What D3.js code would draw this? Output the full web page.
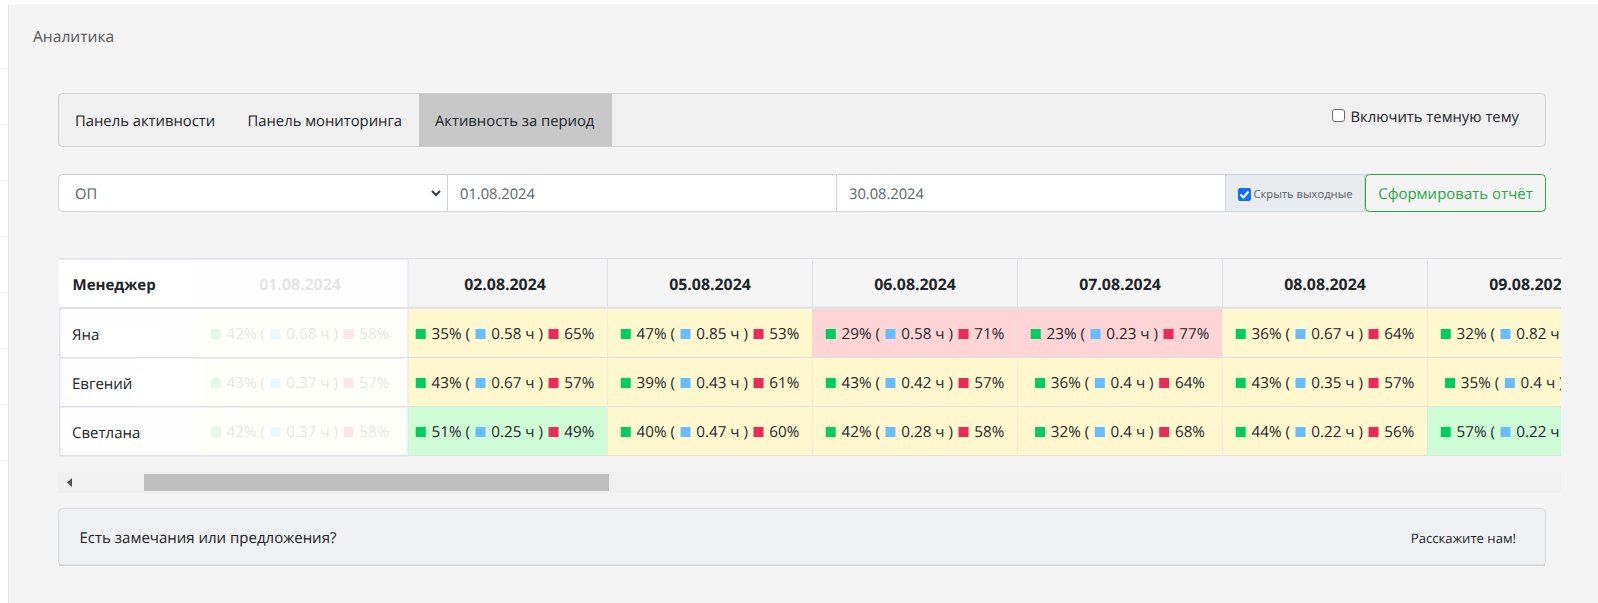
<!DOCTYPE html>
<html lang="ru"><head><meta charset="utf-8">
<script src="https://cdn.jsdelivr.net/npm/d3@7/dist/d3.min.js"></script>
<style>
html,body{margin:0;padding:0;background:#fff;overflow:hidden}
svg{display:block}
text{font-family:"Open Sans",sans-serif;fill:#212529;text-rendering:geometricPrecision}
</style></head><body><svg id="c" width="1598" height="603"></svg>
<script>
const dates=["01.08.2024","02.08.2024","05.08.2024","06.08.2024","07.08.2024","08.08.2024","09.08.2024"];
const managers=["Яна","Евгений","Светлана"];
const activeYana=[42,35,47,29,23,36,32];
const activeEvgeny=[43,43,39,43,36,43,35];
const activeSvetlana=[42,51,40,42,32,44,57];
const hoursYana=["0.68","0.58","0.85","0.58","0.23","0.67","0.82"];
const hoursEvgeny=["0.37","0.67","0.43","0.42","0.4","0.35","0.4"];
const hoursSvetlana=["0.37","0.25","0.47","0.28","0.4","0.22","0.22"];
const idleYana=[58,65,53,71,77,64,68];
const idleEvgeny=[57,57,61,57,64,57,65];
const idleSvetlana=[58,49,60,58,68,56,43];
const tabs=["Панель активности","Панель мониторинга","Активность за период"];
const active=[activeYana,activeEvgeny,activeSvetlana];
const hours=[hoursYana,hoursEvgeny,hoursSvetlana];
const idle=[idleYana,idleEvgeny,idleSvetlana];

const svg=d3.select("#c");
const W=1598,H=603,border="#dfe1e8",clipRight=1561;
const rect=(p,x,y,w,h,f,s,r)=>p.append("rect").attr("x",x).attr("y",y).attr("width",w).attr("height",h)
  .attr("fill",f||"none").attr("stroke",s||"none").attr("rx",r||0);
const label=(p,t,x,y,size,color,weight,anchor)=>p.append("text").text(t).attr("x",x).attr("y",y)
  .attr("dominant-baseline","central").attr("font-size",size).style("fill",color||"#212529")
  .attr("font-weight",weight||400).attr("text-anchor",anchor||"start");

// page background
rect(svg,0,0,W,H,"#fff");
[68,124,180,236,292,348,404,460].forEach(y=>rect(svg,0,y,8,1,"#eeeeee"));
rect(svg,8,4.5,W-8,H-4.5,"#f4f4f4");
rect(svg,8,5,1,H-5,"#e9e9e9");
label(svg,"Аналитика",33,35.5,15.6,"#555");

// navbar
rect(svg,58.5,93.5,1487,53,"#f0f0f0","#cfcfcf",4);
rect(svg,419,94,193,52,"#c8c8c8");
const tabX=[75,247.5,435];
tabs.forEach((t,i)=>label(svg,t,tabX[i],120.5,14.8));
rect(svg,1332.5,109.5,12,12,"#fff","#6c6c6c",2.5);
label(svg,"Включить темную тему",1350.5,117,14.8);

// form row
rect(svg,58.5,174.5,1487,37,"#fff","#ced4da",4);
[447,836].forEach(x=>rect(svg,x,175,1,37,"#ced4da"));
label(svg,"ОП",75,194,14.7,"#5a6268");
svg.append("path").attr("d","M432 191l4 4 4-4").attr("fill","none").attr("stroke","#343a40").attr("stroke-width",2);
label(svg,"01.08.2024",460,194,14.7,"#5a6268");
label(svg,"30.08.2024",849,194,14.7,"#5a6268");
rect(svg,1225.5,174.5,139,37,"#e9ecef","#ced4da");
rect(svg,1238,188,13,13,"#0d6efd",null,2);
svg.append("path").attr("d","M1240.5 194.5l3 3 5-6").attr("fill","none").attr("stroke","#fff").attr("stroke-width",2);
label(svg,"Скрыть выходные",1253.5,194.5,11.2,"#5a6268");
rect(svg,1365.5,174.5,180,37,"#f4f4f4","#28a745",4);
label(svg,"Сформировать отчёт",1455.5,194,15,"#28a745",400,"middle");

// table
const x=d3.scaleBand().domain(dates).range([197.5,197.5+205*dates.length]);
const y=d3.scaleBand().domain(managers).range([309,456]);
const fill=d3.scaleThreshold().domain([30,50]).range(["#ffd4d4","#fff8cf","#cffdd6"]);
const squares=["#00cc5f","#66bdff","#ea2a58"];

svg.append("clipPath").attr("id","tc").append("rect").attr("x",58).attr("y",250).attr("width",clipRight-58).attr("height",215);
const tbl=svg.append("g").attr("clip-path","url(#tc)");
rect(tbl,59,258.5,1600,49,"#f5f5f5");
rect(tbl,59,258,1600,1,border);
rect(tbl,59,306.5,1600,2.5,"#e2e3e8");
dates.forEach((d,c)=>{
  const X=x(d),bw=x.bandwidth();
  label(tbl,d,X+bw/2,284,15.9,"#212529",700,"middle");
  rect(tbl,X+bw-.5,258.5,1,48,border);
  managers.forEach((m,r)=>{
    const Y=y(m),bh=y.bandwidth();
    const g=tbl.append("g");
    rect(g,X,Y,bw,bh,fill(active[r][c]));
    rect(g,X,Y+bh-1,bw,1,border);
    rect(g,X+bw-.5,Y,1,bh,border);
    const parts=[[squares[0],`${active[r][c]}% (`],[squares[1],`${hours[r][c]} ч )`],[squares[2],`${idle[r][c]}%`]];
    const row=g.append("g");
    let cur=0;
    const placed=[];
    parts.forEach(([col,t])=>{
      const sq=rect(row,cur,-5,10,10,col);
      const tx=label(row,t,cur+15.8,-.5,15.2);
      placed.push([cur,sq,tx]);
      cur+=15.8+tx.node().getComputedTextLength()+5.6;
    });
    cur-=5.6;
    const left=X+bw/2-cur/2;
    row.attr("transform",`translate(${left},${Y+bh/2+.5})`);
    // pieces that start past the scrolling viewport are not on screen
    placed.forEach(([at,sq,tx])=>{ if(left+at>=clipRight){sq.remove();tx.remove();} });
  });
});

// frozen manager column (translucent overlay)
const fz=svg.append("g");
rect(fz,59,258.5,349,198,"#fff").attr("opacity",.88);
rect(fz,59,258.5,138,49,"#fff");
rect(fz,59,309,1.5,147,border);
rect(fz,59,258,349,1.5,border);
rect(fz,407.5,258.5,1,198,border);
rect(fz,59,307,349,2,border);
rect(fz,101,323,60,29,"#fff");
rect(fz,132,358,70,47,"#fff");
managers.forEach((m,r)=>{
  rect(fz,59,y(m)+y.bandwidth()-1,349,1.5,border);
  label(fz,m,72,y(m)+y.bandwidth()/2+1,15);
});
label(fz,"Менеджер",72.5,285,15,"#212529",700);

// scrollbar
rect(svg,58,472,1503,21,"#f0f0f0");
rect(svg,144,474,465,17,"#bfbfbf");
svg.append("path").attr("d","M72 478v9l-5-4.5z").attr("fill","#505050");

// footer
rect(svg,58.5,508.5,1487,57,"#eff0f2","#d8d9dc",4);
rect(svg,59,564.5,1486,1.5,"#cfd0d3");
label(svg,"Есть замечания или предложения?",79.5,538,15,"#212529");
label(svg,"Расскажите нам!",1516,538,13.1,"#212529",400,"end");
</script></body></html>
